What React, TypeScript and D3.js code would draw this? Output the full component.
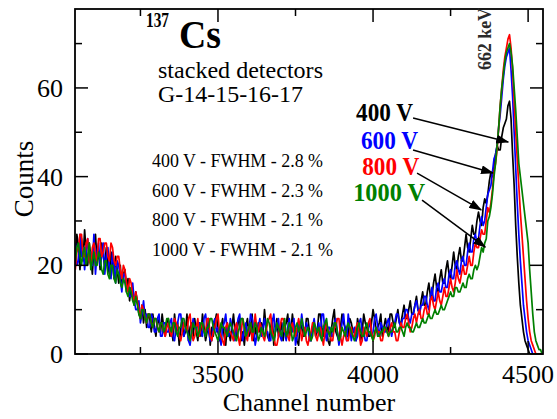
import React from 'react';
import * as d3 from 'd3';

// Spectrum channels: start + step (index i -> channel)
const CHANNEL_START = 3040;
const CHANNEL_STEP = 5;

// Counts per channel (every 5th channel, 3040..4550)
const counts400V = [
  22, 27, 24, 19, 26, 21, 28, 23, 20, 25, 22, 18, 24, 27, 21, 23, 19, 25, 22, 20,
  24, 20, 18, 23, 21, 17, 22, 19, 16, 20, 15, 18, 19, 14, 17, 12, 15, 13, 11, 14,
  12, 9, 8, 11, 7, 10, 6, 9, 8, 5, 9, 6, 4, 8, 7, 5, 9, 6, 4, 7,
  8, 4, 6, 3, 9, 5, 7, 2, 6, 8, 4, 5, 9, 3, 6, 7, 4, 8, 5, 3,
  7, 4, 9, 6, 3, 5, 8, 2, 6, 4, 7, 9, 5, 3, 6, 8, 4, 2, 7, 5,
  3, 6, 9, 5, 4, 7, 8, 3, 5, 2, 6, 8, 4, 5, 9, 3, 6, 4, 7, 5,
  7, 5, 10, 6, 4, 3, 6, 8, 2, 5, 8, 4, 5, 7, 3, 6, 7, 9, 4, 5,
  9, 6, 5, 3, 2, 7, 6, 4, 4, 8, 8, 5, 3, 6, 7, 4, 5, 9, 9, 6,
  4, 7, 6, 3, 2, 5, 8, 10, 5, 4, 3, 6, 9, 7, 6, 4, 4, 8, 7, 5,
  5, 3, 8, 6, 3, 5, 9, 7, 6, 4, 4, 7, 10, 8, 5, 6, 7, 9, 4, 6,
  8, 6, 5, 9, 9, 7, 6, 8, 10, 7, 7, 9, 11, 8, 8, 10, 12, 9, 9, 11,
  13, 10, 9, 12, 14, 11, 11, 14, 16, 13, 13, 16, 18, 15, 14, 17, 19, 16, 16, 19,
  21, 18, 17, 20, 23, 20, 19, 22, 24, 21, 21, 24, 27, 24, 23, 26, 29, 27, 27, 30,
  32, 30, 29, 33, 35, 34, 36, 39, 41, 40, 42, 45, 47, 46, 46, 49, 51, 52, 53, 56,
  57, 53, 45, 38, 29, 22, 16, 11, 8, 5, 3, 2, 1, 0, 0, 0, 0, 0, 0, 0,
  0, 0, 0,
];
const counts600V = [
  25, 20, 21, 27, 22, 24, 19, 23, 26, 21, 23, 20, 27, 18, 23, 25, 20, 22, 25, 18,
  22, 24, 19, 17, 23, 20, 16, 21, 20, 17, 14, 18, 18, 15, 15, 13, 13, 16, 12, 10,
  10, 12, 7, 9, 12, 8, 9, 6, 6, 9, 8, 5, 5, 8, 9, 4, 4, 7, 7, 5,
  5, 7, 8, 4, 3, 6, 7, 9, 9, 5, 4, 6, 6, 3, 2, 5, 8, 6, 5, 7,
  7, 5, 4, 8, 9, 6, 5, 3, 3, 7, 8, 5, 6, 4, 2, 6, 7, 9, 5, 4,
  8, 6, 4, 3, 6, 8, 9, 5, 3, 6, 7, 4, 5, 9, 8, 6, 2, 4, 6, 8,
  4, 6, 8, 5, 5, 3, 3, 7, 9, 5, 6, 8, 4, 3, 7, 5, 3, 6, 8, 5,
  5, 8, 2, 4, 7, 5, 9, 6, 4, 7, 6, 3, 3, 6, 8, 5, 5, 7, 4, 9,
  9, 5, 3, 6, 6, 4, 4, 7, 8, 5, 2, 4, 7, 9, 5, 3, 9, 6, 3, 5,
  6, 3, 4, 7, 8, 5, 5, 3, 3, 6, 7, 4, 5, 8, 9, 6, 4, 7, 6, 5,
  5, 7, 8, 6, 4, 6, 7, 9, 9, 7, 6, 8, 8, 10, 10, 8, 7, 9, 9, 11,
  12, 10, 9, 11, 11, 13, 13, 11, 10, 13, 15, 12, 12, 15, 16, 14, 14, 16, 17, 15,
  15, 18, 19, 17, 17, 20, 21, 19, 18, 21, 22, 20, 20, 23, 25, 23, 23, 26, 27, 25,
  26, 29, 31, 29, 30, 33, 36, 37, 38, 41, 44, 45, 47, 51, 54, 58, 62, 65, 67, 68,
  69, 64, 58, 50, 42, 34, 27, 21, 16, 11, 8, 5, 3, 2, 1, 0, 0, 0, 0, 0,
  0, 0, 0,
];
const counts800V = [
  19, 23, 24, 27, 27, 22, 22, 25, 26, 21, 20, 24, 25, 22, 21, 26, 26, 22, 23, 25,
  25, 22, 21, 25, 24, 21, 20, 22, 22, 19, 17, 20, 19, 16, 14, 17, 16, 13, 12, 14,
  12, 10, 8, 11, 10, 8, 7, 9, 9, 7, 6, 8, 8, 6, 5, 7, 7, 5, 4, 6,
  7, 5, 4, 6, 8, 7, 6, 4, 3, 5, 7, 6, 5, 8, 9, 5, 3, 4, 6, 8,
  4, 6, 7, 5, 5, 8, 8, 4, 3, 5, 6, 8, 9, 5, 4, 3, 2, 6, 7, 5,
  5, 4, 3, 6, 7, 4, 2, 5, 8, 6, 4, 3, 6, 7, 3, 5, 9, 6, 5, 7,
  6, 4, 3, 5, 7, 8, 9, 5, 4, 2, 2, 4, 6, 8, 8, 5, 5, 4, 3, 6,
  7, 5, 4, 6, 8, 6, 3, 5, 6, 3, 2, 4, 5, 7, 7, 4, 3, 5, 6, 4,
  2, 5, 7, 5, 5, 3, 3, 6, 6, 8, 8, 4, 2, 4, 5, 3, 3, 5, 6, 4,
  4, 6, 7, 5, 2, 3, 6, 5, 4, 7, 8, 5, 3, 4, 6, 5, 5, 3, 3, 5,
  6, 5, 4, 6, 7, 5, 5, 3, 3, 5, 7, 6, 6, 8, 9, 7, 5, 6, 8, 9,
  7, 9, 10, 8, 8, 10, 11, 9, 9, 12, 13, 11, 10, 12, 14, 12, 11, 13, 15, 13,
  13, 15, 17, 15, 14, 16, 19, 17, 16, 18, 20, 18, 18, 20, 22, 20, 20, 23, 25, 24,
  24, 26, 28, 27, 27, 30, 33, 32, 34, 37, 41, 43, 46, 51, 56, 60, 64, 67, 69, 71,
  72, 69, 64, 57, 50, 44, 38, 32, 27, 22, 17, 12, 8, 5, 3, 2, 1, 0, 0, 0,
  0, 0, 0,
];
const counts1000V = [
  21, 24, 25, 22, 20, 23, 24, 20, 22, 25, 19, 21, 23, 20, 20, 23, 22, 19, 18, 21,
  21, 18, 17, 20, 20, 17, 16, 19, 18, 16, 15, 17, 16, 14, 13, 15, 14, 12, 11, 13,
  11, 9, 8, 10, 10, 8, 7, 9, 9, 7, 6, 8, 8, 6, 5, 7, 7, 5, 6, 8,
  8, 6, 5, 7, 7, 5, 4, 6, 6, 8, 8, 6, 5, 4, 3, 5, 7, 6, 6, 4,
  5, 7, 7, 5, 4, 6, 6, 8, 8, 6, 5, 4, 3, 5, 7, 6, 6, 5, 4, 6,
  7, 6, 5, 4, 3, 5, 6, 8, 8, 6, 4, 5, 6, 7, 5, 5, 7, 6, 3, 4,
  6, 5, 4, 6, 8, 7, 5, 4, 3, 5, 7, 6, 5, 4, 6, 8, 4, 5, 7, 6,
  3, 4, 6, 7, 5, 6, 8, 6, 4, 5, 6, 5, 3, 4, 7, 6, 5, 6, 4, 3,
  6, 7, 8, 5, 4, 6, 5, 7, 7, 5, 3, 4, 6, 5, 4, 6, 7, 6, 5, 4,
  3, 4, 6, 7, 5, 4, 4, 6, 7, 5, 5, 4, 3, 5, 6, 4, 4, 5, 5, 6,
  6, 5, 4, 5, 5, 6, 7, 5, 5, 6, 6, 5, 4, 6, 7, 6, 6, 5, 5, 6,
  7, 6, 6, 7, 8, 7, 7, 8, 9, 8, 8, 9, 10, 9, 9, 10, 11, 10, 10, 11,
  12, 13, 14, 13, 13, 15, 15, 14, 14, 15, 16, 15, 15, 17, 18, 17, 17, 19, 20, 19,
  20, 22, 24, 23, 25, 26, 30, 31, 33, 36, 40, 43, 47, 51, 56, 60, 63, 66, 68, 69,
  70, 68, 65, 60, 55, 49, 43, 40, 37, 34, 31, 28, 25, 19, 14, 9, 5, 3, 2, 1,
  1, 0, 0,
];

const seriesNames = ['400 V', '600 V', '800 V', '1000 V'];
const seriesColors = ['#000000', '#0000ff', '#ff0000', '#008000'];
const seriesValues = [counts400V, counts600V, counts800V, counts1000V];
const fwhmValues = ['2.8', '2.3', '2.1', '2.1'];

// Annotation arrows: label anchor (channel, count) and arrow tip (channel, count)
const labelChannel = [4129, 4145, 4149, 4168];
const labelCount = [52.6, 46.3, 40.4, 34.5];
const arrowStartChannel = [4129, 4129, 4142, 4158];
const arrowStartCount = [53.2, 46.0, 40.8, 34.7];
const arrowEndChannel = [4436, 4387, 4349, 4362];
const arrowEndCount = [47.8, 40.8, 32.5, 24.1];

const xMajorTicks = [3500, 4000, 4500];
const xMinorTicks = [3250, 3750, 4250];
const yMajorTicks = [0, 20, 40, 60];
const yMinorTicks = [10, 30, 50, 70];

const FONT = '"Liberation Serif", "DejaVu Serif", serif';

export default function App() {
  const L = 75, R = 543, T = 9, B = 354;
  const x = d3.scaleLinear().domain([3039, 4548]).range([L, R]);
  const y = d3.scaleLinear().domain([0, 77.8]).range([B, T]);
  const channels = counts400V.map((_, i) => CHANNEL_START + i * CHANNEL_STEP);
  const line = d3
    .line<number>()
    .x((_, i) => x(channels[i]))
    .y((d) => y(d));

  const majorLen = 13;
  const minorLen = 7;

  return (
    <svg
      width={557}
      height={419}
      style={{ position: 'absolute', left: 0, top: 0, background: '#fff' }}
      fontFamily={FONT}
    >
      <defs>
        <clipPath id="plot">
          <rect x={L} y={T} width={R - L} height={B - T} />
        </clipPath>
        <marker
          id="arrow"
          markerUnits="userSpaceOnUse"
          markerWidth={13}
          markerHeight={9}
          refX={12}
          refY={4.5}
          orient="auto"
        >
          <path d="M0,0 L13,4.5 L0,9 Z" fill="#000" />
        </marker>
      </defs>

      {/* spectra */}
      <g clipPath="url(#plot)">
        {seriesValues.map((vals, k) => (
          <path
            key={k}
            d={line(vals) || ''}
            fill="none"
            stroke={seriesColors[k]}
            strokeWidth={1.7}
            strokeLinejoin="round"
          />
        ))}
      </g>

      {/* frame */}
      <rect x={L} y={T} width={R - L} height={B - T} fill="none" stroke="#000" strokeWidth={1.8} />

      {/* x ticks */}
      {xMajorTicks.map((t) => (
        <g key={'xM' + t}>
          <line x1={x(t)} x2={x(t)} y1={B} y2={B - majorLen} stroke="#000" strokeWidth={1.5} />
          <line x1={x(t)} x2={x(t)} y1={T} y2={T + majorLen} stroke="#000" strokeWidth={1.5} />
          <text x={x(t)} y={383} fontSize={26} textAnchor="middle" fill="#000">
            {t}
          </text>
        </g>
      ))}
      {xMinorTicks.map((t) => (
        <g key={'xm' + t}>
          <line x1={x(t)} x2={x(t)} y1={B} y2={B - minorLen} stroke="#000" strokeWidth={1.5} />
          <line x1={x(t)} x2={x(t)} y1={T} y2={T + minorLen} stroke="#000" strokeWidth={1.5} />
        </g>
      ))}

      {/* y ticks */}
      {yMajorTicks.map((t) => (
        <g key={'yM' + t}>
          <line x1={L} x2={L + majorLen} y1={y(t)} y2={y(t)} stroke="#000" strokeWidth={1.5} />
          <line x1={R} x2={R - majorLen} y1={y(t)} y2={y(t)} stroke="#000" strokeWidth={1.5} />
          <text x={63} y={y(t) + 9} fontSize={26} textAnchor="end" fill="#000">
            {t}
          </text>
        </g>
      ))}
      {yMinorTicks.map((t) => (
        <g key={'ym' + t}>
          <line x1={L} x2={L + minorLen} y1={y(t)} y2={y(t)} stroke="#000" strokeWidth={1.5} />
          <line x1={R} x2={R - minorLen} y1={y(t)} y2={y(t)} stroke="#000" strokeWidth={1.5} />
        </g>
      ))}

      {/* axis titles */}
      <text x={309} y={411} fontSize={26} textAnchor="middle" fill="#000">
        Channel number
      </text>
      <text
        transform="translate(33,179) rotate(-90)"
        fontSize={27}
        textAnchor="middle"
        fill="#000"
      >
        Counts
      </text>

      {/* title block */}
      <text x={146} y={27} fontSize={21} fontWeight="bold" fill="#000" textLength={23} lengthAdjust="spacingAndGlyphs">
        137
      </text>
      <text x={179} y={48} fontSize={39} fontWeight="bold" fill="#000" textLength={42} lengthAdjust="spacingAndGlyphs">
        Cs
      </text>
      <text x={158} y={78} fontSize={23} fill="#000" textLength={165} lengthAdjust="spacingAndGlyphs">
        stacked detectors
      </text>
      <text x={158} y={102} fontSize={23} fill="#000" textLength={145} lengthAdjust="spacingAndGlyphs">
        G-14-15-16-17
      </text>

      {/* FWHM list */}
      {seriesNames.map((n, k) => (
        <text
          key={'f' + k}
          x={152}
          y={167 + k * 29.7}
          fontSize={19}
          fill="#000"
          textLength={k === 3 ? 181 : 171}
          lengthAdjust="spacingAndGlyphs"
        >
          {`${n} - FWHM - ${fwhmValues[k]} %`}
        </text>
      ))}

      {/* peak label */}
      <text
        transform="translate(491,70) rotate(-90)"
        fontSize={18}
        fontWeight="bold"
        fill="#2a2a2a"
        textLength={62}
        lengthAdjust="spacingAndGlyphs"
      >
        662 keV
      </text>

      {/* arrows */}
      {seriesNames.map((n, k) => (
        <line
          key={'a' + k}
          x1={x(arrowStartChannel[k])}
          y1={y(arrowStartCount[k])}
          x2={x(arrowEndChannel[k])}
          y2={y(arrowEndCount[k])}
          stroke="#000"
          strokeWidth={1.5}
          markerEnd="url(#arrow)"
        />
      ))}

      {/* voltage labels */}
      {seriesNames.map((n, k) => (
        <text
          key={'l' + k}
          x={x(labelChannel[k])}
          y={y(labelCount[k])}
          fontSize={25}
          fontWeight="bold"
          fill={seriesColors[k]}
          textAnchor="end"
          textLength={k === 3 ? 72 : 57}
          lengthAdjust="spacingAndGlyphs"
        >
          {n}
        </text>
      ))}
    </svg>
  );
}
